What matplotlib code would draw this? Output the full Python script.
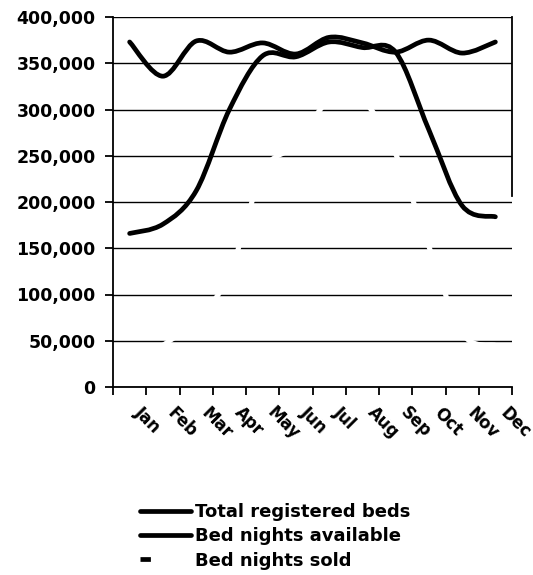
import numpy as np
import matplotlib.pyplot as plt
from matplotlib.path import Path
from matplotlib.patches import PathPatch
from matplotlib.lines import Line2D
from matplotlib.ticker import FuncFormatter

months = ['Jan', 'Feb', 'Mar', 'Apr', 'May', 'Jun',
          'Jul', 'Aug', 'Sep', 'Oct', 'Nov', 'Dec']
total_beds = [373000, 336000, 374000, 362000, 372000, 360000,
              378000, 372000, 362000, 375000, 361000, 373000]
nights_available = [166000, 176000, 212000, 300000, 358000, 357000,
                    373000, 367000, 362000, 278000, 196000, 184000]
nights_sold = [20000, 45000, 72000, 122000, 232000, 262000,
               310000, 310000, 252000, 152000, 58000, 45000]
legend_labels = ['Total registered beds', 'Bed nights available', 'Bed nights sold']


def smooth_path(x, y):
    # Bezier through every point, Catmull-Rom style tangents
    pts = np.column_stack([x, y]).astype(float)
    verts = [pts[0]]
    codes = [Path.MOVETO]
    n = len(pts)
    for i in range(n - 1):
        p0 = pts[max(i - 1, 0)]
        p1 = pts[i]
        p2 = pts[i + 1]
        p3 = pts[min(i + 2, n - 1)]
        verts += [p1 + (p2 - p0) / 6, p2 - (p3 - p1) / 6, p2]
        codes += [Path.CURVE4] * 3
    return Path(verts, codes)


plt.rcParams['font.family'] = 'DejaVu Sans'
plt.rcParams['font.weight'] = 'bold'

fig = plt.figure(figsize=(5.33, 5.75), dpi=100)
ax = fig.add_axes([113 / 533, 1 - 387 / 575, 399 / 533, 370 / 575])

x = np.arange(len(months)) + 0.5

ax.add_patch(PathPatch(smooth_path(x, nights_sold), fill=False, ec='white',
                       lw=3.6, zorder=2))
ax.add_patch(PathPatch(smooth_path(x, total_beds), fill=False, ec='black',
                       lw=3.4, capstyle='round', joinstyle='round', zorder=3))
ax.add_patch(PathPatch(smooth_path(x, nights_available), fill=False, ec='black',
                       lw=3.4, capstyle='round', joinstyle='round', zorder=3))

ax.set_xlim(0, 12)
ax.set_ylim(0, 400000)

ax.set_yticks(np.arange(0, 400001, 50000))
ax.yaxis.set_major_formatter(FuncFormatter(lambda v, p: f'{v:,.0f}'))
ax.yaxis.grid(True, color='black', lw=1.0, zorder=1)
ax.set_axisbelow(True)

ax.set_xticks(np.arange(0, 13))
ax.set_xticklabels([])
ax.set_xticks(x + 0.42, minor=True)
ax.set_xticklabels(months, minor=True)
ax.tick_params(axis='x', which='minor', length=0, pad=12)
for lbl in ax.get_xticklabels(minor=True):
    lbl.set_rotation(-45)
    lbl.set_rotation_mode('anchor')
    lbl.set_ha('left')
    lbl.set_va('top')
    lbl.set_fontsize(12)
    lbl.set_fontweight('bold')

ax.tick_params(axis='both', which='major', direction='out', length=5.5,
               width=1.3, color='black')
ax.tick_params(axis='y', labelsize=12.5, pad=7)
for lbl in ax.get_yticklabels():
    lbl.set_fontweight('bold')

ax.spines['top'].set_visible(False)
ax.spines['right'].set_bounds(207000, 400000)
for s in ('left', 'bottom', 'right'):
    ax.spines[s].set_linewidth(1.3)

handles = [
    Line2D([], [], color='black', lw=3.4, solid_capstyle='round'),
    Line2D([], [], color='black', lw=3.4, solid_capstyle='round'),
    Line2D([], [], color='black', lw=3.4, dashes=(2.2, 40)),
]
fig.legend(handles, legend_labels, loc='upper left',
           bbox_to_anchor=(140 / 533, 1 - 503 / 575), frameon=False,
           prop={'size': 13, 'weight': 'bold'}, handlelength=2.8,
           handletextpad=0.25, labelspacing=0.35, borderpad=0,
           borderaxespad=0)

fig.savefig('out.png', dpi=100)
